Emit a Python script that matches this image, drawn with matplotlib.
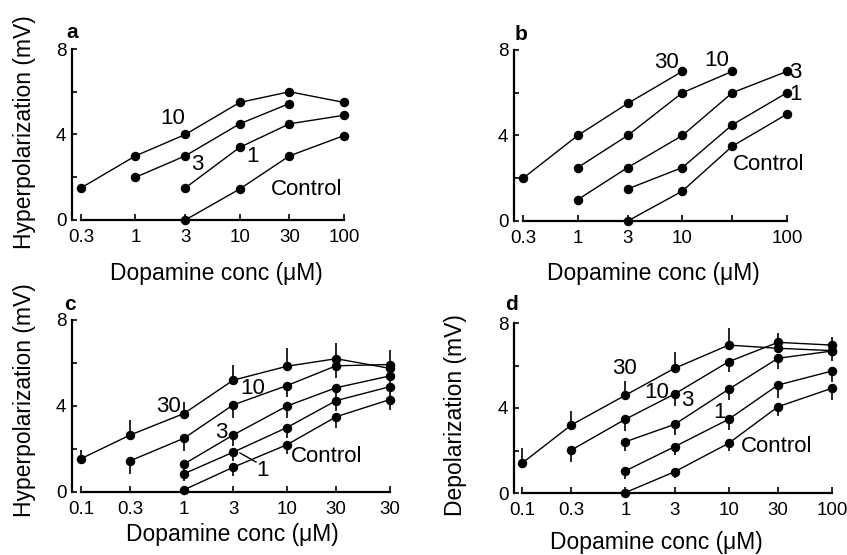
import matplotlib
matplotlib.use("Agg")
import matplotlib.pyplot as plt
from matplotlib.lines import Line2D

plt.rcParams['font.family'] = ['Liberation Sans', 'DejaVu Sans']

W, H = 847, 555

# ---------------- data ----------------
# panel a
a_x10 = [0.3, 1, 3, 10, 30, 100]
a_y10 = [1.5, 3.0, 4.0, 5.5, 6.0, 5.5]
a_x3 = [1, 3, 10, 30]
a_y3 = [2.0, 3.0, 4.5, 5.45]
a_x1 = [3, 10, 30, 100]
a_y1 = [1.5, 3.4, 4.5, 4.9]
a_xc = [3, 10, 30, 100]
a_yc = [0.0, 1.45, 3.0, 3.95]
a_ticks = [0.3, 1, 3, 10, 30, 100]
a_ticklabels = ['0.3', '1', '3', '10', '30', '100']

# panel b
b_x30 = [0.3, 1, 3, 10]
b_y30 = [2.0, 4.0, 5.5, 7.0]
b_x10 = [1, 3, 10, 30]
b_y10 = [2.5, 4.0, 6.0, 7.0]
b_x3 = [1, 3, 10, 30, 100]
b_y3 = [1.0, 2.5, 4.0, 6.0, 7.0]
b_x1 = [3, 10, 30, 100]
b_y1 = [1.5, 2.5, 4.5, 6.0]
b_xc = [3, 10, 30, 100]
b_yc = [0.0, 1.4, 3.5, 5.0]
b_ticks = [0.3, 1, 3, 10, 30, 100]
b_ticklabels = ['0.3', '1', '3', '10', '', '100']

# panel c (mean and error bar length)
c_x30 = [0.1, 0.3, 1, 3, 10, 30, 100]
c_y30 = [1.55, 2.65, 3.65, 5.2, 5.85, 6.2, 5.75]
c_e30 = [0.4, 0.7, 0.55, 0.7, 0.85, 0.75, 0.85]
c_x10 = [0.3, 1, 3, 10, 30, 100]
c_y10 = [1.45, 2.5, 4.05, 4.95, 5.87, 5.93]
c_e10 = [0.6, 0.6, 0.6, 0.55, 0.55, 0.5]
c_x3 = [1, 3, 10, 30, 100]
c_y3 = [1.3, 2.65, 4.0, 4.85, 5.4]
c_e3 = [0.3, 0.5, 0.55, 0.5, 0.45]
c_x1 = [1, 3, 10, 30, 100]
c_y1 = [0.85, 1.85, 3.0, 4.25, 4.9]
c_e1 = [0.35, 0.4, 0.5, 0.5, 0.45]
c_xc = [1, 3, 10, 30, 100]
c_yc = [0.1, 1.15, 2.2, 3.5, 4.3]
c_ec = [0.0, 0.4, 0.45, 0.5, 0.5]
c_ticks = [0.1, 0.3, 1, 3, 10, 30, 100]
c_ticklabels = ['0.1', '0.3', '1', '3', '10', '30', '30']

# panel d
d_x30 = [0.1, 0.3, 1, 3, 10, 30, 100]
d_y30 = [1.4, 3.2, 4.6, 5.87, 6.96, 6.81, 6.7]
d_e30 = [0.7, 0.65, 0.65, 0.75, 0.8, 0.7, 0.65]
d_x10 = [0.3, 1, 3, 10, 30, 100]
d_y10 = [2.02, 3.47, 4.66, 6.18, 7.09, 6.96]
d_e10 = [0.55, 0.55, 0.55, 0.5, 0.5, 0.45]
d_x3 = [1, 3, 10, 30, 100]
d_y3 = [2.41, 3.23, 4.88, 6.34, 6.68]
d_e3 = [0.45, 0.5, 0.5, 0.5, 0.45]
d_x1 = [1, 3, 10, 30, 100]
d_y1 = [1.04, 2.18, 3.47, 5.08, 5.74]
d_e1 = [0.4, 0.4, 0.5, 0.6, 0.5]
d_xc = [1, 3, 10, 30, 100]
d_yc = [0.02, 1.0, 2.34, 4.06, 4.93]
d_ec = [0.0, 0.3, 0.35, 0.45, 0.55]
d_ticks = [0.1, 0.3, 1, 3, 10, 30, 100]
d_ticklabels = ['0.1', '0.3', '1', '3', '10', '30', '100']

y_ticks = [0, 2, 4, 6, 8]
y_ticklabels = ['0', '', '4', '', '8']

# ---------------- drawing ----------------
fig = plt.figure(figsize=(W / 100, H / 100), dpi=100)

TICK_FS = 13.5
LAB_FS = 16.5
ANN_FS = 16
LET_FS = 15


def fx(px):
    return px / W


def fy(py):
    return 1 - py / H


def make_ax(x0, x1, ytop, ybot, xlo, xhi, ticks, ticklabels):
    ax = fig.add_axes([fx(x0), fy(ybot), fx(x1) - fx(x0), fy(ytop) - fy(ybot)])
    ax.set_xscale('log')
    ax.set_xlim(xlo, xhi)
    ax.set_ylim(0, 8)
    ax.spines['top'].set_visible(False)
    ax.spines['right'].set_visible(False)
    ax.spines['left'].set_linewidth(1.6)
    ax.spines['bottom'].set_linewidth(1.6)
    ax.spines['bottom'].set_bounds(ticks[0], ticks[-1])
    ax.set_xticks(ticks)
    ax.set_xticklabels(ticklabels)
    ax.xaxis.set_minor_locator(matplotlib.ticker.NullLocator())
    ax.set_yticks(y_ticks)
    ax.set_yticklabels(y_ticklabels)
    ax.tick_params(axis='x', direction='in', length=4, width=1.2, pad=6.5,
                   labelsize=TICK_FS)
    ax.tick_params(axis='y', direction='in', length=3.5, width=1.2, pad=4,
                   labelsize=TICK_FS)
    ax.patch.set_visible(False)
    return ax


def series(ax, x, y, err=None, up=False):
    ax.plot(x, y, '-', color='black', lw=1.0, clip_on=False, zorder=2)
    if err is not None:
        if up:
            yerr = [[0] * len(err), err]
        else:
            yerr = [err, [0] * len(err)]
        ax.errorbar(x, y, yerr=yerr, fmt='none', ecolor='black',
                    elinewidth=1.2, capsize=0, clip_on=False, zorder=2)
    ax.plot(x, y, 'o', color='black', ms=5.8, clip_on=False, zorder=3)


def ftext(px, py, s, size=ANN_FS, **kw):
    fig.text(fx(px), fy(py), s, fontsize=size, ha='center', va='center', **kw)


# panel a
ax = make_ax(72, 344, 49, 220, 0.246, 100, a_ticks, a_ticklabels)
series(ax, a_x10, a_y10)
series(ax, a_x3, a_y3)
series(ax, a_x1, a_y1)
series(ax, a_xc, a_yc)
ftext(173, 118, '10')
ftext(197, 164, '3')
ftext(252, 156, '1')
ftext(307, 189, 'Control')
ftext(72, 33, 'a', size=LET_FS, fontweight='bold')
ftext(25, 132, 'Hyperpolarization (mV)', size=LAB_FS, rotation=90)
ftext(216, 273, 'Dopamine conc (\u03bcM)', size=LAB_FS)

# panel b
ax = make_ax(514, 787, 50, 221, 0.246, 100, b_ticks, b_ticklabels)
series(ax, b_x30, b_y30)
series(ax, b_x10, b_y10)
series(ax, b_x3, b_y3)
series(ax, b_x1, b_y1)
series(ax, b_xc, b_yc)
ftext(666, 62, '30')
ftext(717, 61, '10')
ftext(795, 72, '3')
ftext(795, 94, '1')
ftext(769, 164, 'Control')
ftext(521, 34, 'b', size=LET_FS, fontweight='bold')
ftext(653, 273, 'Dopamine conc (\u03bcM)', size=LAB_FS)

# panel c
ax = make_ax(72, 390, 320, 492, 0.0818, 100, c_ticks, c_ticklabels)
series(ax, c_x30, c_y30, c_e30, up=True)
series(ax, c_x10, c_y10, c_e10)
series(ax, c_x3, c_y3, c_e3)
series(ax, c_x1, c_y1, c_e1)
series(ax, c_xc, c_yc, c_ec)
ftext(168, 407, '30')
ftext(253, 389, '10')
ftext(221, 433, '3')
ftext(262, 470, '1')
ftext(327, 456, 'Control')
fig.add_artist(Line2D([fx(240), fx(256)], [fy(453), fy(462)], color='black',
                      lw=1.0, transform=fig.transFigure))
ftext(70, 305, 'c', size=LET_FS, fontweight='bold')
ftext(25, 400, 'Hyperpolarization (mV)', size=LAB_FS, rotation=90)
ftext(232, 535, 'Dopamine conc (\u03bcM)', size=LAB_FS)

# panel d
ax = make_ax(514, 832, 323, 493, 0.0837, 100, d_ticks, d_ticklabels)
series(ax, d_x30, d_y30, d_e30, up=True)
series(ax, d_x10, d_y10, d_e10)
series(ax, d_x3, d_y3, d_e3)
series(ax, d_x1, d_y1, d_e1)
series(ax, d_xc, d_yc, d_ec)
ftext(624, 369, '30')
ftext(657, 392, '10')
ftext(687, 401, '3')
ftext(719, 413, '1')
ftext(777, 447, 'Control')
ftext(512, 305, 'd', size=LET_FS, fontweight='bold')
ftext(455, 415, 'Depolarization (mV)', size=LAB_FS, rotation=90)
ftext(656, 542, 'Dopamine conc (\u03bcM)', size=LAB_FS)

fig.savefig('out.png', dpi=100)
